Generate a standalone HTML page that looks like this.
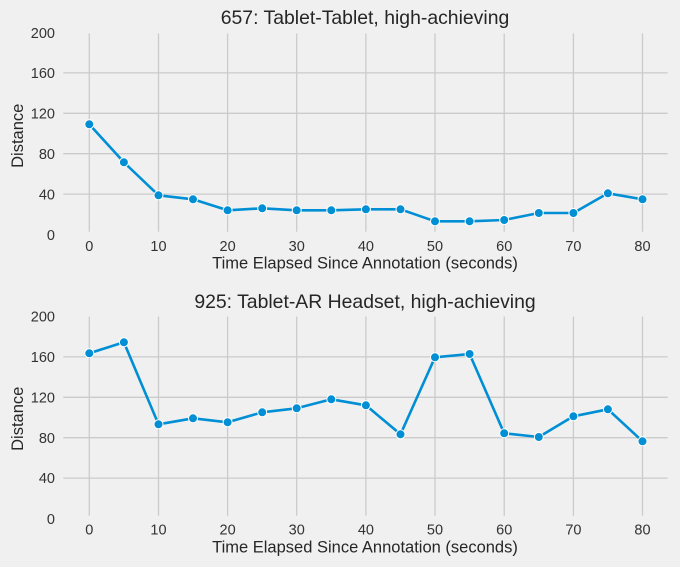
<!DOCTYPE html>
<html><head><meta charset="utf-8"><style>
html,body{margin:0;padding:0;background:#f0f0f0;}
svg{display:block;font-family:"Liberation Sans",Arial,sans-serif;}
</style></head><body>
<svg width="680" height="567" viewBox="0 0 680 567" xmlns="http://www.w3.org/2000/svg">
<rect width="680" height="567" fill="#f0f0f0"/>
<g stroke="#cbcbcb" stroke-width="1.3" fill="none">
<!-- top grid -->
<line x1="63.3" x2="667.7" y1="194.1" y2="194.1"/>
<line x1="63.3" x2="667.7" y1="153.7" y2="153.7"/>
<line x1="63.3" x2="667.7" y1="113.3" y2="113.3"/>
<line x1="63.3" x2="667.7" y1="72.9" y2="72.9"/>
<line x1="89.3" x2="89.3" y1="33.5" y2="231.7"/>
<line x1="158.5" x2="158.5" y1="33.5" y2="231.7"/>
<line x1="227.6" x2="227.6" y1="33.5" y2="231.7"/>
<line x1="296.7" x2="296.7" y1="33.5" y2="231.7"/>
<line x1="365.9" x2="365.9" y1="33.5" y2="231.7"/>
<line x1="435" x2="435" y1="33.5" y2="231.7"/>
<line x1="504.2" x2="504.2" y1="33.5" y2="231.7"/>
<line x1="573.4" x2="573.4" y1="33.5" y2="231.7"/>
<line x1="642.5" x2="642.5" y1="33.5" y2="231.7"/>
<!-- bottom grid -->
<line x1="63.3" x2="667.7" y1="478.1" y2="478.1"/>
<line x1="63.3" x2="667.7" y1="437.7" y2="437.7"/>
<line x1="63.3" x2="667.7" y1="397.3" y2="397.3"/>
<line x1="63.3" x2="667.7" y1="356.9" y2="356.9"/>
<line x1="89.3" x2="89.3" y1="316.5" y2="515.7"/>
<line x1="158.5" x2="158.5" y1="316.5" y2="515.7"/>
<line x1="227.6" x2="227.6" y1="316.5" y2="515.7"/>
<line x1="296.7" x2="296.7" y1="316.5" y2="515.7"/>
<line x1="365.9" x2="365.9" y1="316.5" y2="515.7"/>
<line x1="435" x2="435" y1="316.5" y2="515.7"/>
<line x1="504.2" x2="504.2" y1="316.5" y2="515.7"/>
<line x1="573.4" x2="573.4" y1="316.5" y2="515.7"/>
<line x1="642.5" x2="642.5" y1="316.5" y2="515.7"/>
</g>

<g fill="#333" font-size="14.5">
<!-- top y ticks -->
<g text-anchor="end">
<text x="55" y="37.8">200</text>
<text x="55" y="78.2">160</text>
<text x="55" y="118.6">120</text>
<text x="55" y="159">80</text>
<text x="55" y="199.4">40</text>
<text x="55" y="239.8">0</text>
<text x="55" y="321.6">200</text>
<text x="55" y="362">160</text>
<text x="55" y="402.4">120</text>
<text x="55" y="442.8">80</text>
<text x="55" y="483.2">40</text>
<text x="55" y="523.8">0</text>
</g>
<g text-anchor="middle">
<text x="89.3" y="251.2">0</text>
<text x="158.5" y="251.2">10</text>
<text x="227.6" y="251.2">20</text>
<text x="296.7" y="251.2">30</text>
<text x="365.9" y="251.2">40</text>
<text x="435" y="251.2">50</text>
<text x="504.2" y="251.2">60</text>
<text x="573.4" y="251.2">70</text>
<text x="642.5" y="251.2">80</text>
<text x="89.3" y="534.5">0</text>
<text x="158.5" y="534.5">10</text>
<text x="227.6" y="534.5">20</text>
<text x="296.7" y="534.5">30</text>
<text x="365.9" y="534.5">40</text>
<text x="435" y="534.5">50</text>
<text x="504.2" y="534.5">60</text>
<text x="573.4" y="534.5">70</text>
<text x="642.5" y="534.5">80</text>
</g>
</g>

<g fill="#262626" text-anchor="middle">
<text x="365" y="24" font-size="19.4">657: Tablet-Tablet, high-achieving</text>
<text x="365" y="308" font-size="19.4">925: Tablet-AR Headset, high-achieving</text>
<text x="365" y="268.5" font-size="16.5">Time Elapsed Since Annotation (seconds)</text>
<text x="365" y="552.5" font-size="16.5">Time Elapsed Since Annotation (seconds)</text>
<text transform="translate(23,135.8) rotate(-90)" font-size="16.5">Distance</text>
<text transform="translate(23,418.8) rotate(-90)" font-size="16.5">Distance</text>
</g>

<!-- top series -->
<polyline fill="none" stroke="#008fd5" stroke-width="2.6" stroke-linejoin="round"
points="89.3,124.3 123.9,162.3 158.5,195.3 193,199.3 227.6,210.3 262.2,208.3 296.7,210.3 331.3,210.3 365.9,209.3 400.5,209.3 435,221.3 469.6,221.3 504.2,220 538.8,213 573.4,213 607.9,193.3 642.5,199.3"/>
<g fill="#008fd5" stroke="#ffffff" stroke-width="1">
<circle cx="89.3" cy="124.3" r="4.5"/><circle cx="123.9" cy="162.3" r="4.5"/><circle cx="158.5" cy="195.3" r="4.5"/><circle cx="193" cy="199.3" r="4.5"/><circle cx="227.6" cy="210.3" r="4.5"/><circle cx="262.2" cy="208.3" r="4.5"/><circle cx="296.7" cy="210.3" r="4.5"/><circle cx="331.3" cy="210.3" r="4.5"/><circle cx="365.9" cy="209.3" r="4.5"/><circle cx="400.5" cy="209.3" r="4.5"/><circle cx="435" cy="221.3" r="4.5"/><circle cx="469.6" cy="221.3" r="4.5"/><circle cx="504.2" cy="220" r="4.5"/><circle cx="538.8" cy="213" r="4.5"/><circle cx="573.4" cy="213" r="4.5"/><circle cx="607.9" cy="193.3" r="4.5"/><circle cx="642.5" cy="199.3" r="4.5"/>
</g>

<!-- bottom series -->
<polyline fill="none" stroke="#008fd5" stroke-width="2.6" stroke-linejoin="round"
points="89.3,353.3 123.9,342.3 158.5,424.3 193,418.3 227.6,422.3 262.2,412.3 296.7,408.3 331.3,399.3 365.9,405.3 400.5,434.3 435,357.3 469.6,354 504.2,433.3 538.8,437 573.4,416.3 607.9,409.3 642.5,441.3"/>
<g fill="#008fd5" stroke="#ffffff" stroke-width="1">
<circle cx="89.3" cy="353.3" r="4.5"/><circle cx="123.9" cy="342.3" r="4.5"/><circle cx="158.5" cy="424.3" r="4.5"/><circle cx="193" cy="418.3" r="4.5"/><circle cx="227.6" cy="422.3" r="4.5"/><circle cx="262.2" cy="412.3" r="4.5"/><circle cx="296.7" cy="408.3" r="4.5"/><circle cx="331.3" cy="399.3" r="4.5"/><circle cx="365.9" cy="405.3" r="4.5"/><circle cx="400.5" cy="434.3" r="4.5"/><circle cx="435" cy="357.3" r="4.5"/><circle cx="469.6" cy="354" r="4.5"/><circle cx="504.2" cy="433.3" r="4.5"/><circle cx="538.8" cy="437" r="4.5"/><circle cx="573.4" cy="416.3" r="4.5"/><circle cx="607.9" cy="409.3" r="4.5"/><circle cx="642.5" cy="441.3" r="4.5"/>
</g>
</svg>
</body></html>
